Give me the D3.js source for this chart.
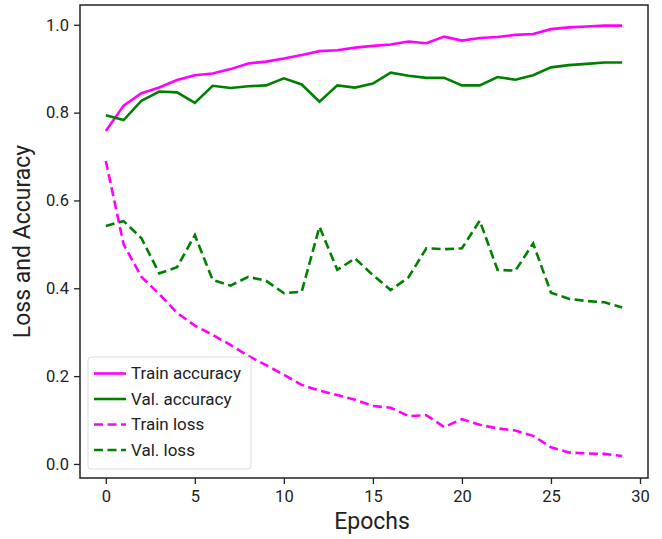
<!DOCTYPE html>
<html>
<head>
<meta charset="utf-8">
<script src="https://cdn.jsdelivr.net/npm/d3@7"></script>
<style>
body { margin: 0; background: #fff; }
text { font-family: Roboto, "DejaVu Sans", sans-serif; fill: #222; }
</style>
</head>
<body>
<script>
var w = 662;
var h = 539;

var epochs = d3.range(30);
var trainAcc = [0.758, 0.816, 0.844, 0.857, 0.874, 0.885, 0.889, 0.899, 0.912, 0.916,
    0.923, 0.931, 0.940, 0.942, 0.948, 0.952, 0.955, 0.962, 0.958, 0.973,
    0.964, 0.970, 0.972, 0.977, 0.979, 0.990, 0.994, 0.996, 0.998, 0.998];
var valAcc = [0.794, 0.783, 0.827, 0.848, 0.846, 0.822, 0.861, 0.856, 0.860, 0.862,
    0.878, 0.864, 0.825, 0.862, 0.857, 0.866, 0.891, 0.884, 0.879, 0.879,
    0.862, 0.862, 0.881, 0.875, 0.885, 0.903, 0.908, 0.911, 0.914, 0.914];
var trainLoss = [0.690, 0.500, 0.426, 0.387, 0.344, 0.315, 0.294, 0.271, 0.246, 0.225,
    0.203, 0.180, 0.167, 0.157, 0.146, 0.132, 0.128, 0.109, 0.111, 0.084,
    0.102, 0.089, 0.081, 0.076, 0.064, 0.038, 0.026, 0.024, 0.023, 0.018];
var valLoss = [0.542, 0.553, 0.514, 0.434, 0.448, 0.521, 0.419, 0.406, 0.426, 0.417,
    0.389, 0.392, 0.540, 0.442, 0.468, 0.430, 0.396, 0.425, 0.491, 0.489,
    0.491, 0.554, 0.442, 0.440, 0.502, 0.390, 0.376, 0.371, 0.368, 0.356];
var xTicks = [0, 5, 10, 15, 20, 25, 30];
var yTicks = [0.0, 0.2, 0.4, 0.6, 0.8, 1.0];

var series = [
    { name: "Train accuracy", values: trainAcc, color: "#ff00ff", dash: null },
    { name: "Val. accuracy", values: valAcc, color: "#008000", dash: null },
    { name: "Train loss", values: trainLoss, color: "#ff00ff", dash: "9,4.5" },
    { name: "Val. loss", values: valLoss, color: "#008000", dash: "9,4.5" }
];

// plot box (window.top is reserved, so prefixed names)
var plotL = 80, plotR = 648, plotT = 5, plotB = 478;

var svg = d3.select("body")
    .append("svg")
    .attr("width", w)
    .attr("height", h);

var x = d3.scaleLinear().domain([-1.45, 30.45]).range([plotL, plotR]);
var y = d3.scaleLinear().domain([-0.032, 1.045]).range([plotB, plotT]);

var line = d3.line()
    .x(function(d, i) { return x(epochs[i]); })
    .y(function(d) { return y(d); });

svg.selectAll("path.series")
    .data(series)
    .enter()
    .append("path")
    .attr("class", "series")
    .attr("d", function(d) { return line(d.values); })
    .attr("fill", "none")
    .attr("stroke", function(d) { return d.color; })
    .attr("stroke-width", 2.6)
    .attr("stroke-dasharray", function(d) { return d.dash; });

// axes
var xAxis = svg.append("g")
    .attr("transform", "translate(0," + plotB + ")")
    .call(d3.axisBottom(x).tickValues(xTicks).tickSize(6).tickPadding(6).tickFormat(d3.format("d")));
var yAxis = svg.append("g")
    .attr("transform", "translate(" + plotL + ",0)")
    .call(d3.axisLeft(y).tickValues(yTicks).tickSize(6).tickPadding(5).tickFormat(d3.format(".1f")));

[xAxis, yAxis].forEach(function(g) {
    g.select(".domain").remove();
    g.selectAll(".tick line").attr("stroke", "#222").attr("stroke-width", 1.3);
    g.selectAll(".tick text").attr("font-size", "16.5px").attr("fill", "#222")
        .attr("font-family", "Roboto, sans-serif");
});

svg.append("rect")
    .attr("x", plotL)
    .attr("y", plotT)
    .attr("width", plotR - plotL)
    .attr("height", plotB - plotT)
    .attr("fill", "none")
    .attr("stroke", "#222")
    .attr("stroke-width", 1.5);

svg.append("text")
    .text("Epochs")
    .attr("x", 372)
    .attr("y", 529)
    .attr("text-anchor", "middle")
    .attr("font-size", "23px");

svg.append("text")
    .text("Loss and Accuracy")
    .attr("transform", "translate(30," + ((plotT + plotB) / 2) + ") rotate(-90)")
    .attr("text-anchor", "middle")
    .attr("font-size", "23px");

// legend
var legend = svg.append("g").attr("transform", "translate(88,357)");
legend.append("rect")
    .attr("width", 163)
    .attr("height", 112)
    .attr("rx", 3)
    .attr("fill", "#fff")
    .attr("fill-opacity", 0.8)
    .attr("stroke", "#ddd");

var items = legend.selectAll("g.item")
    .data(series)
    .enter()
    .append("g")
    .attr("class", "item")
    .attr("transform", function(d, i) { return "translate(0," + (16.5 + i * 25.5) + ")"; });

items.append("line")
    .attr("x1", 6)
    .attr("x2", 38)
    .attr("stroke", function(d) { return d.color; })
    .attr("stroke-width", 2.6)
    .attr("stroke-dasharray", function(d) { return d.dash; });

items.append("text")
    .text(function(d) { return d.name; })
    .attr("x", 43)
    .attr("dy", "0.35em")
    .attr("font-size", "17px");
</script>
</body>
</html>
